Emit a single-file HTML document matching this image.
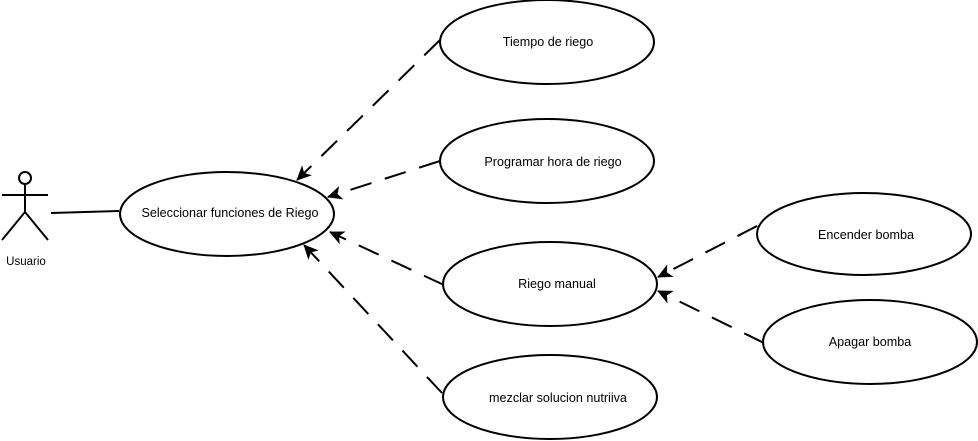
<!DOCTYPE html>
<html><head><style>body{margin:0;background:#fff}svg{display:block}</style></head><body>
<svg width="978" height="441" xmlns="http://www.w3.org/2000/svg" font-family="Liberation Sans, sans-serif" font-size="12.6">
<defs><marker id="a" markerWidth="16" markerHeight="14" refX="14" refY="7" orient="auto" markerUnits="userSpaceOnUse"><path d="M0,0 L15,7 L0,14 L4,7 z" fill="#000"/></marker></defs>
<g fill="#fff" stroke="#000" stroke-width="2">
<ellipse cx="547" cy="42" rx="107" ry="42"/>
<ellipse cx="547" cy="161" rx="107" ry="42"/>
<ellipse cx="227" cy="214" rx="107" ry="42"/>
<ellipse cx="550" cy="284" rx="107" ry="42"/>
<ellipse cx="550" cy="397" rx="107" ry="42"/>
<ellipse cx="864" cy="234" rx="107" ry="41"/>
<ellipse cx="870" cy="342" rx="107" ry="42"/>
</g>
<g stroke="#000" stroke-width="2" fill="none">
<circle cx="25" cy="178" r="6"/>
<line x1="25" y1="184" x2="25" y2="212"/>
<line x1="2" y1="195" x2="48" y2="195"/>
<line x1="25" y1="212" x2="2" y2="240"/>
<line x1="25" y1="212" x2="48" y2="240"/>
<line x1="51" y1="213" x2="119" y2="211"/>
</g>
<g stroke="#000" stroke-width="2" fill="none" stroke-dasharray="22,14" marker-end="url(#a)">
<line x1="440" y1="40" x2="297" y2="180"/>
<line x1="440" y1="161" x2="328" y2="197"/>
<line x1="444" y1="285" x2="330" y2="232"/>
<line x1="442" y1="393" x2="304" y2="245"/>
<line x1="757" y1="226" x2="658" y2="277"/>
<line x1="764" y1="343" x2="658" y2="291"/>
</g>
<g text-anchor="middle" fill="#000">
<text x="548" y="46">Tiempo de riego</text>
<text x="553" y="166">Programar hora de riego</text>
<text x="230" y="217">Seleccionar funciones de Riego</text>
<text x="557" y="288">Riego manual</text>
<text x="558" y="402">mezclar solucion nutriiva</text>
<text x="866" y="239">Encender bomba</text>
<text x="870" y="346">Apagar bomba</text>
<text x="26" y="265" font-size="11.5">Usuario</text>
</g>
</svg>
</body></html>
